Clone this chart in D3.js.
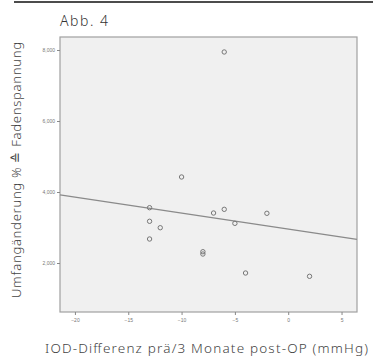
<!DOCTYPE html>
<html>
<head>
<meta charset="utf-8">
<script src="https://cdn.jsdelivr.net/npm/d3@7"></script>
<style>
  body { margin: 0; background: #fff; }
  svg { display: block; font-family: "Noto Sans", "DejaVu Sans", sans-serif; }
</style>
</head>
<body>
<div class="chart"></div>
<script>
// values
let iodDiff = [-6, -10, -13, -13, -12, -13, -8, -8, -7, -6, -5, -4, -2, 2];
let umfang = [7944, 4423, 3558, 3175, 2994, 2676, 2318, 2253, 3408, 3512, 3117, 1718, 3400, 1625];
let xTicks = [-20, -15, -10, -5, 0, 5];
let yTicks = [2000, 4000, 6000, 8000];
let yTickLabels = ["2,000", "4,000", "6,000", "8,000"];

let width = 373, height = 361;
let plot = { left: 60, top: 37, right: 357, bottom: 312 };

let svg = d3.select('div.chart').append('svg')
  .attr('width', width)
  .attr('height', height);

let x = d3.scaleLinear().domain([-21.4, 6.45]).range([plot.left, plot.right]);
let y = d3.scaleLinear().domain([620, 8366]).range([plot.bottom, plot.top]);

// top rule and title
svg.append('line')
  .attr('x1', 14).attr('x2', 373).attr('y1', 2).attr('y2', 2)
  .attr('stroke', '#111').attr('stroke-width', 1.5);
svg.append('text')
  .attr('x', 60).attr('y', 26)
  .attr('font-size', 14).attr('font-weight', 300).attr('fill', '#333')
  .attr('textLength', 48).attr('lengthAdjust', 'spacing')
  .text('Abb. 4');

// plot area
svg.append('rect')
  .attr('x', plot.left).attr('y', plot.top)
  .attr('width', plot.right - plot.left).attr('height', plot.bottom - plot.top)
  .attr('fill', '#f0f0f0').attr('stroke', '#a0a0a0').attr('stroke-width', 1.2);

// axes
let xAxis = svg.append('g')
  .attr('transform', 'translate(0,' + plot.bottom + ')')
  .call(d3.axisBottom(x).tickValues(xTicks).tickSize(3).tickPadding(3));
let yAxis = svg.append('g')
  .attr('transform', 'translate(' + plot.left + ',0)')
  .call(d3.axisLeft(y).tickValues(yTicks).tickSize(3).tickPadding(2)
    .tickFormat((d, i) => yTickLabels[i]));
[xAxis, yAxis].forEach(a => {
  a.select('.domain').remove();
  a.selectAll('line').attr('stroke', '#888');
  a.selectAll('text').attr('font-size', 5).attr('fill', '#777');
});

// regression line (least squares from the points)
let mx = d3.mean(iodDiff), my = d3.mean(umfang);
let sxy = d3.sum(iodDiff, (d, i) => (d - mx) * (umfang[i] - my));
let sxx = d3.sum(iodDiff, d => (d - mx) * (d - mx));
let slope = sxy / sxx;
let fit = v => my + slope * (v - mx);
let dom = x.domain();
svg.append('line')
  .attr('x1', x(dom[0])).attr('y1', y(fit(dom[0])))
  .attr('x2', x(dom[1])).attr('y2', y(fit(dom[1])))
  .attr('stroke', '#8a8a8a').attr('stroke-width', 1.3);

// points
svg.selectAll('circle.pt')
  .data(iodDiff).enter()
  .append('circle')
  .attr('class', 'pt')
  .attr('cx', d => x(d))
  .attr('cy', (d, i) => y(umfang[i]))
  .attr('r', 2.2)
  .attr('fill', 'none')
  .attr('stroke', '#777')
  .attr('stroke-width', 1);

// axis titles
svg.append('text')
  .attr('x', 45).attr('y', 353)
  .attr('font-size', 13.5).attr('font-weight', 300).attr('fill', '#444')
  .attr('textLength', 323).attr('lengthAdjust', 'spacing')
  .text('IOD-Differenz prä/3 Monate post-OP (mmHg)');
svg.append('text')
  .attr('transform', 'translate(21,298) rotate(-90)')
  .attr('font-size', 13).attr('font-weight', 300).attr('fill', '#444')
  .attr('textLength', 256).attr('lengthAdjust', 'spacing')
  .text('Umfangänderung % ≙ Fadenspannung');
</script>
</body>
</html>
